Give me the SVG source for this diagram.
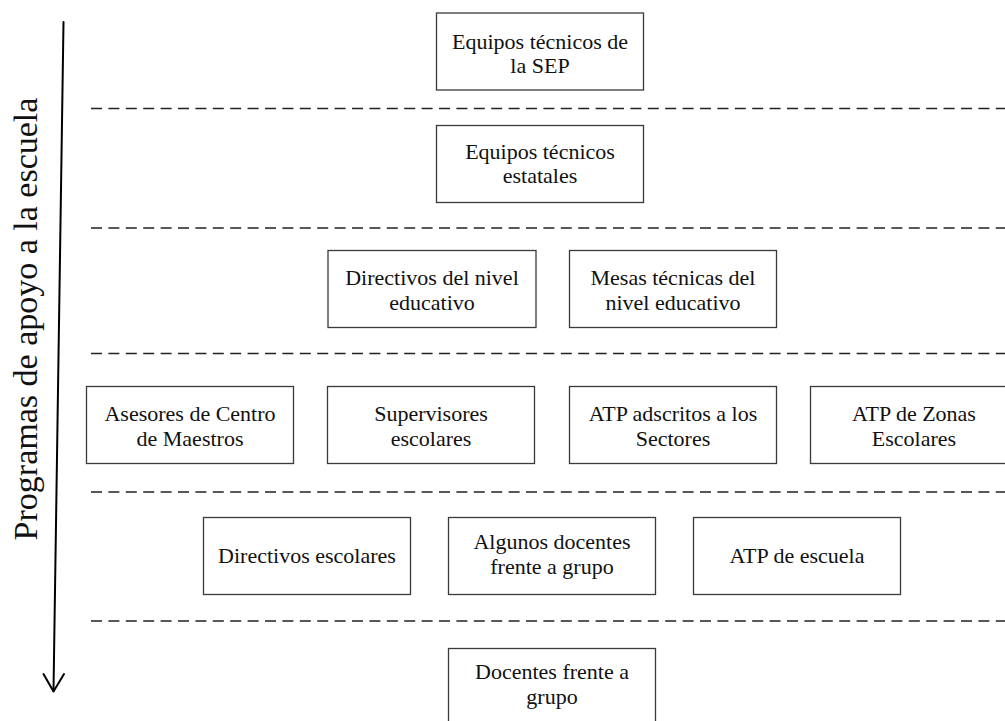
<svg xmlns="http://www.w3.org/2000/svg" width="1005" height="721" viewBox="0 0 1005 721">
  <style>
    .box { fill: #ffffff; stroke: #3a3a3a; stroke-width: 1.3; }
    .lbl { font-family: "Liberation Serif", "Times New Roman", serif; font-size: 22px; fill: #111; text-anchor: middle; }
    .sep { stroke: #222; stroke-width: 1.6; stroke-dasharray: 11 6.4; fill: none; }
    .axis { stroke: #000; stroke-width: 2; fill: none; stroke-linecap: round; stroke-linejoin: round; }
    .side { font-family: "Liberation Serif", "Times New Roman", serif; font-size: 34px; fill: #111; text-anchor: middle; }
  </style>
  <rect width="1005" height="721" fill="#ffffff"/>

  <!-- level separators -->
  <g id="separators">
    <line class="sep" x1="91" y1="108.5" x2="1005" y2="108.5"/>
    <line class="sep" x1="91" y1="228" x2="1005" y2="228"/>
    <line class="sep" x1="91" y1="353.5" x2="1005" y2="353.5"/>
    <line class="sep" x1="91" y1="492" x2="1005" y2="492"/>
    <line class="sep" x1="91" y1="621" x2="1005" y2="621"/>
  </g>

  <!-- downward axis with open arrowhead -->
  <g id="connectors">
    <line class="axis" x1="63.5" y1="22" x2="53.5" y2="691"/>
    <polyline class="axis" points="43.5,674 53.5,691.5 64,674"/>
  </g>
  <text class="side" transform="translate(37,319) rotate(-90)">Programas de apoyo a la escuela</text>

  <!-- level 1 -->
  <g id="n-sep">
    <rect class="box" x="436.5" y="13" width="207" height="77"/>
    <text class="lbl" x="540" y="48.5">Equipos técnicos de</text>
    <text class="lbl" x="540" y="73">la SEP</text>
  </g>

  <!-- level 2 -->
  <g id="n-estatales">
    <rect class="box" x="436.5" y="125.5" width="207" height="77"/>
    <text class="lbl" x="540" y="158.5">Equipos técnicos</text>
    <text class="lbl" x="540" y="183">estatales</text>
  </g>

  <!-- level 3 -->
  <g id="n-directivos-nivel">
    <rect class="box" x="328" y="250.5" width="208" height="77"/>
    <text class="lbl" x="432" y="285">Directivos del nivel</text>
    <text class="lbl" x="432" y="309.5">educativo</text>
  </g>
  <g id="n-mesas">
    <rect class="box" x="569.5" y="250.5" width="207" height="77"/>
    <text class="lbl" x="673" y="285">Mesas técnicas del</text>
    <text class="lbl" x="673" y="309.5">nivel educativo</text>
  </g>

  <!-- level 4 -->
  <g id="n-asesores">
    <rect class="box" x="86.5" y="386.5" width="207" height="77"/>
    <text class="lbl" x="190" y="421">Asesores de Centro</text>
    <text class="lbl" x="190" y="445.5">de Maestros</text>
  </g>
  <g id="n-supervisores">
    <rect class="box" x="327.5" y="386.5" width="207" height="77"/>
    <text class="lbl" x="431" y="421">Supervisores</text>
    <text class="lbl" x="431" y="445.5">escolares</text>
  </g>
  <g id="n-atp-sectores">
    <rect class="box" x="569.5" y="386.5" width="207" height="77"/>
    <text class="lbl" x="673" y="421">ATP adscritos a los</text>
    <text class="lbl" x="673" y="445.5">Sectores</text>
  </g>
  <g id="n-atp-zonas">
    <rect class="box" x="810.5" y="386.5" width="207" height="77"/>
    <text class="lbl" x="914" y="421">ATP de Zonas</text>
    <text class="lbl" x="914" y="445.5">Escolares</text>
  </g>

  <!-- level 5 -->
  <g id="n-directivos-escolares">
    <rect class="box" x="203.5" y="517.5" width="207" height="77"/>
    <text class="lbl" x="307" y="563">Directivos escolares</text>
  </g>
  <g id="n-algunos-docentes">
    <rect class="box" x="448.5" y="517.5" width="207" height="77"/>
    <text class="lbl" x="552" y="549">Algunos docentes</text>
    <text class="lbl" x="552" y="573.5">frente a grupo</text>
  </g>
  <g id="n-atp-escuela">
    <rect class="box" x="693.5" y="517.5" width="207" height="77"/>
    <text class="lbl" x="797" y="563">ATP de escuela</text>
  </g>

  <!-- level 6 -->
  <g id="n-docentes">
    <rect class="box" x="448.5" y="648.5" width="207" height="80"/>
    <text class="lbl" x="552" y="679">Docentes frente a</text>
    <text class="lbl" x="552" y="703.5">grupo</text>
  </g>
</svg>
